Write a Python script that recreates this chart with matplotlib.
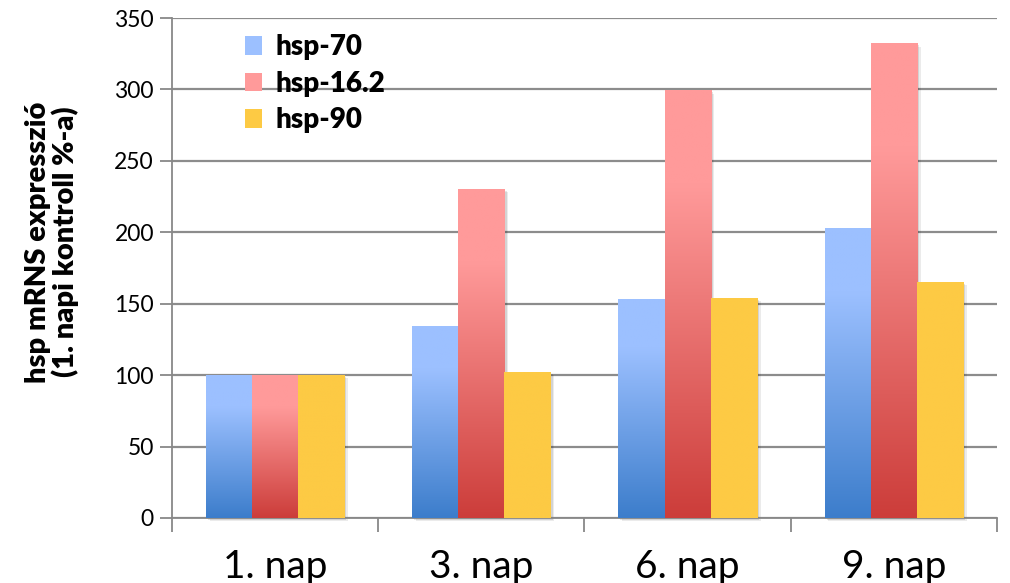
import numpy as np
import matplotlib
matplotlib.use("Agg")
import matplotlib.pyplot as plt
from matplotlib.colors import to_rgb
from matplotlib.patches import Rectangle, Patch

days = ["1. nap", "3. nap", "6. nap", "9. nap"]
series = ["hsp-70", "hsp-16.2", "hsp-90"]
hsp70 = [100, 134, 153, 203]
hsp16 = [100, 230, 299, 332]
hsp90 = [100, 102, 154, 165]

# (light top colour, dark bottom colour)
fills = {
    "hsp-70": ("#9cc0ff", "#3c7dcb"),
    "hsp-16.2": ("#ff9a9a", "#cc3d3a"),
    "hsp-90": ("#fdca44", "#fdca44"),
}

plt.rcParams["font.family"] = ["Lato", "DejaVu Sans"]

fig = plt.figure(figsize=(10.1, 5.83), dpi=100)
ax = fig.add_axes([0.1703, 0.1115, 0.8168, 0.8576])

x = np.arange(len(days))
width = 0.224
values = [hsp70, hsp16, hsp90]


def gradient_bar(ax, x0, w, h, light, dark):
    lo, hi = np.array(to_rgb(dark)), np.array(to_rgb(light))
    t = np.linspace(0, 1, 200)[:, None]
    t = np.clip(t / 0.78, 0, 1)
    img = lo + (hi - lo) * t
    img = img[:, None, :]
    ax.imshow(img, extent=[x0, x0 + w, 0, h], origin="lower",
              aspect="auto", zorder=3, interpolation="bilinear")


for k, (name, vals) in enumerate(zip(series, values)):
    light, dark = fills[name]
    for i, v in enumerate(vals):
        x0 = x[i] + (k - 1) * width - width / 2
        # soft shadow
        for s, a in [(0.018, 0.08), (0.010, 0.10)]:
            ax.add_patch(Rectangle((x0 + s, -s * 110), width, v, color="#000000",
                                   alpha=a, lw=0, zorder=2, clip_on=False))
        gradient_bar(ax, x0, width, v, light, dark)

ax.set_xlim(-0.5, len(days) - 0.5)
ax.set_ylim(0, 350)
ax.set_yticks(range(0, 351, 50))
ax.set_xticks(x)
ax.set_xticklabels(days, fontsize=28)
ax.set_xticks(np.arange(-0.5, len(days), 1), minor=True)
ax.tick_params(axis="x", which="major", length=0, pad=22)
ax.tick_params(axis="x", which="minor", length=10, width=1.3, color="#888888")
ax.tick_params(axis="y", labelsize=16.5, length=9, width=1.3, color="#888888", pad=4)

ax.grid(axis="y", color="#8c8c8c", lw=1.6, zorder=0)
ax.set_axisbelow(True)
for side in ["top", "right"]:
    ax.spines[side].set_visible(False)
ax.spines["left"].set_color("#888888")
ax.spines["left"].set_linewidth(1.3)
ax.spines["bottom"].set_color("#888888")
ax.spines["bottom"].set_linewidth(1.3)

fig.text(52 / 1010, 1 - 242 / 583, "hsp mRNS expresszió\n(1. napi kontroll %-a)",
         rotation=90, ha="center", va="center", fontsize=21,
         fontweight="heavy", linespacing=1.0, multialignment="center")

handles = [Patch(facecolor=fills[s][0], edgecolor="none") for s in series]
leg = ax.legend(handles, series, loc="upper left", bbox_to_anchor=(0.058, 1.018),
                frameon=False, prop={"weight": "heavy", "size": 20},
                handlelength=0.6, handleheight=0.65, handletextpad=0.5,
                labelspacing=0.38)

fig.savefig("out.png", dpi=100)
